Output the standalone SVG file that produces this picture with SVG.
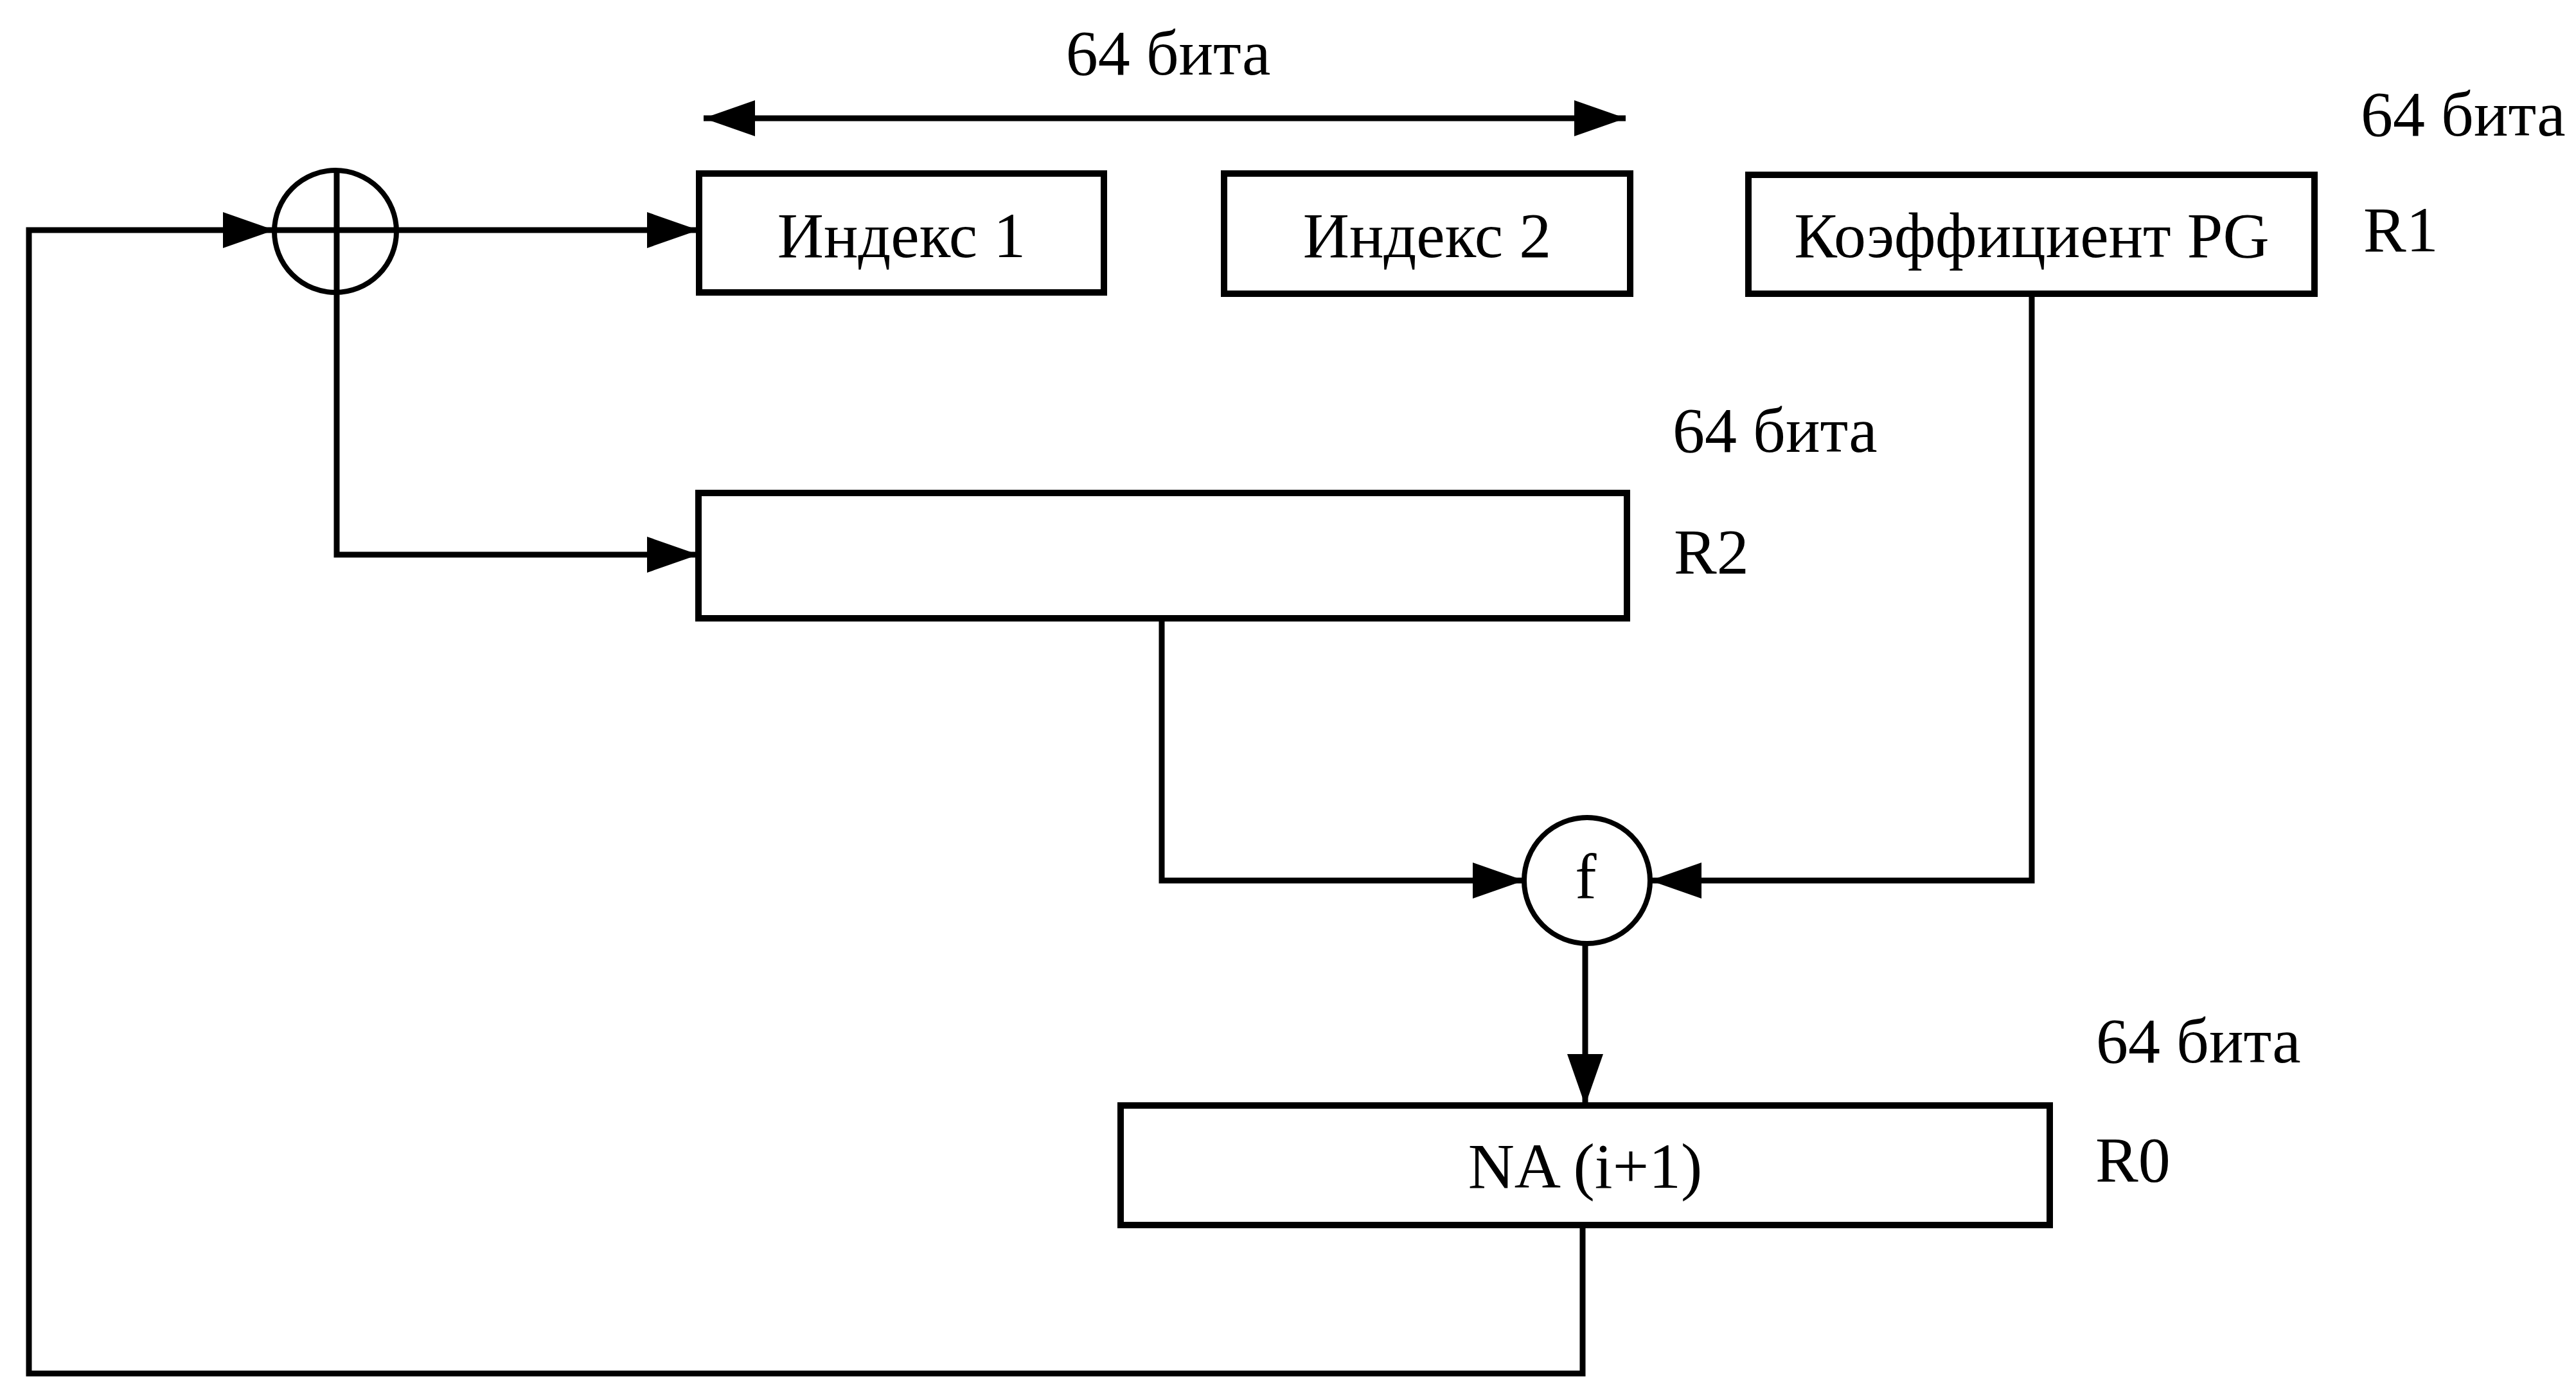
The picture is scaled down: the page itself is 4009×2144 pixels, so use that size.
<svg xmlns="http://www.w3.org/2000/svg" width="4009" height="2144" viewBox="0 0 4009 2144">
<defs>
<style>
.box{fill:#fff;stroke:#000;stroke-width:10}
.ln{fill:none;stroke:#000;stroke-width:9}
.circ{fill:#fff;stroke:#000;stroke-width:8}
.t{font-family:"Liberation Serif","Times New Roman",serif;font-size:100px;fill:#000}
.c{text-anchor:middle}
</style>
<marker id="ah" markerUnits="userSpaceOnUse" markerWidth="82" markerHeight="56" refX="80" refY="28" orient="auto-start-reverse" viewBox="0 0 82 56">
<path d="M0,0 L80,28 L0,56 z" fill="#000"/>
</marker>
</defs>
<rect width="4009" height="2144" fill="#fff"/>
<g id="connectors">
<path class="ln" d="M2463,1906 V2137 H45 V358 H427" marker-end="url(#ah)"/>
<path class="ln" d="M618,358 H1087" marker-end="url(#ah)"/>
<path class="ln" d="M524,454 V863 H1087" marker-end="url(#ah)"/>
<path class="ln" d="M1808,962 V1370 H2372" marker-end="url(#ah)"/>
<path class="ln" d="M3162,457 V1370 H2568" marker-end="url(#ah)"/>
<path class="ln" d="M2467,1470 V1720" marker-end="url(#ah)"/>
<path class="ln" d="M1095,184 H2530" marker-start="url(#ah)" marker-end="url(#ah)"/>
</g>
<g id="xor">
<circle class="circ" cx="522" cy="360" r="95"/>
<line class="ln" x1="427" y1="358" x2="618" y2="358"/>
<line class="ln" x1="524" y1="265" x2="524" y2="455"/>
</g>
<g id="index1">
<rect class="box" x="1088" y="270" width="630" height="185"/>
<text class="t c" x="1403" y="400">Индекс 1</text>
</g>
<g id="index2">
<rect class="box" x="1905" y="270" width="632" height="187"/>
<text class="t c" x="2221" y="400">Индекс 2</text>
</g>
<g id="pg">
<rect class="box" x="2721" y="272" width="881" height="185"/>
<text class="t c" x="3162" y="400">Коэффициент PG</text>
</g>
<g id="r2">
<rect class="box" x="1087" y="767" width="1445" height="195"/>
</g>
<g id="f">
<circle class="circ" cx="2470" cy="1370" r="98"/>
<text class="t c" x="2468" y="1398">f</text>
</g>
<g id="na">
<rect class="box" x="1744" y="1720" width="1446" height="186"/>
<text class="t c" x="2467" y="1848">NA (i+1)</text>
</g>
<g id="labels">
<text class="t c" x="1818" y="116">64 бита</text>
<text class="t" x="3674" y="211">64 бита</text>
<text class="t" x="3678" y="391">R1</text>
<text class="t" x="2603" y="703">64 бита</text>
<text class="t" x="2605" y="892">R2</text>
<text class="t" x="3262" y="1653">64 бита</text>
<text class="t" x="3261" y="1838">R0</text>
</g>
</svg>
